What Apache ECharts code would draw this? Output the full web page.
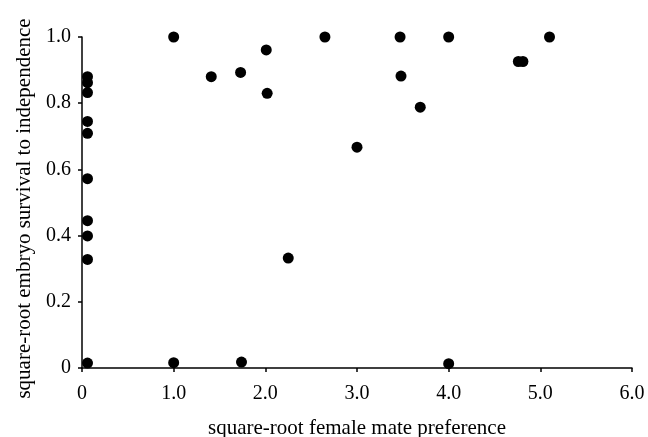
<!DOCTYPE html>
<html>
<head>
<meta charset="utf-8">
<script src="https://cdn.jsdelivr.net/npm/echarts@6/dist/echarts.min.js"></script>
<style>
  html, body { margin: 0; padding: 0; background: #fff; }
  #myChart { width: 648px; height: 437px; }
</style>
</head>
<body>
<div id="myChart"></div>
<script>
// square-root female mate preference
var xValues = [
  0.06, 0.06, 0.06, 0.06, 0.06, 0.06, 0.06, 0.06, 0.06, 0.06,
  1.0, 1.0, 1.41, 1.73, 1.74, 2.01, 2.02, 2.25, 2.65, 3.0,
  3.47, 3.48, 3.69, 4.0, 4.0, 4.76, 4.81, 5.1
];
// square-root embryo survival to independence
var yValues = [
  0.88, 0.862, 0.832, 0.745, 0.709, 0.572, 0.445, 0.399, 0.328, 0.015,
  1.0, 0.016, 0.88, 0.893, 0.018, 0.961, 0.83, 0.332, 1.0, 0.667,
  1.0, 0.882, 0.788, 1.0, 0.013, 0.926, 0.926, 1.0
];
var xTickLabels = ["0", "1.0", "2.0", "3.0", "4.0", "5.0", "6.0"];
var yTickLabels = ["0", "0.2", "0.4", "0.6", "0.8", "1.0"];

var points = xValues.map(function (x, i) {
  return [x, yValues[i]];
});

var font = "'Liberation Serif', 'Times New Roman', serif";
var myChart = echarts.init(document.getElementById("myChart"));

myChart.setOption({
  animation: false,
  grid: { left: 82, right: 16, top: 37, bottom: 69, outerBoundsMode: "none" },
  xAxis: {
    type: "value",
    min: 0,
    max: 6,
    interval: 1,
    name: "square-root female mate preference",
    nameLocation: "middle",
    nameGap: 50,
    nameTextStyle: { fontFamily: font, fontSize: 21, color: "#000" },
    splitLine: { show: false },
    axisLine: { lineStyle: { color: "#000", width: 1.5 } },
    axisTick: { show: true, length: 4, lineStyle: { color: "#000", width: 1.5 } },
    axisLabel: {
      margin: 16,
      fontFamily: font,
      fontSize: 20,
      color: "#000",
      formatter: function (v) { return xTickLabels[Math.round(v)]; }
    }
  },
  yAxis: {
    type: "value",
    min: 0,
    max: 1,
    interval: 0.2,
    name: "square-root embryo survival to independence",
    nameLocation: "middle",
    nameGap: 47,
    nameTextStyle: { fontFamily: font, fontSize: 21, color: "#000", padding: [0, 12, 0, 0] },
    splitLine: { show: false },
    axisLine: { show: true, lineStyle: { color: "#000", width: 1.5 } },
    axisTick: { show: true, length: 4, lineStyle: { color: "#000", width: 1.5 } },
    axisLabel: {
      margin: 11,
      fontFamily: font,
      fontSize: 20,
      color: "#000",
      formatter: function (v) { return yTickLabels[Math.round(v * 5)]; }
    }
  },
  series: [
    {
      type: "scatter",
      data: points,
      symbol: "circle",
      symbolSize: 11,
      clip: false,
      itemStyle: { color: "#000", opacity: 1 }
    }
  ]
});
</script>
</body>
</html>
